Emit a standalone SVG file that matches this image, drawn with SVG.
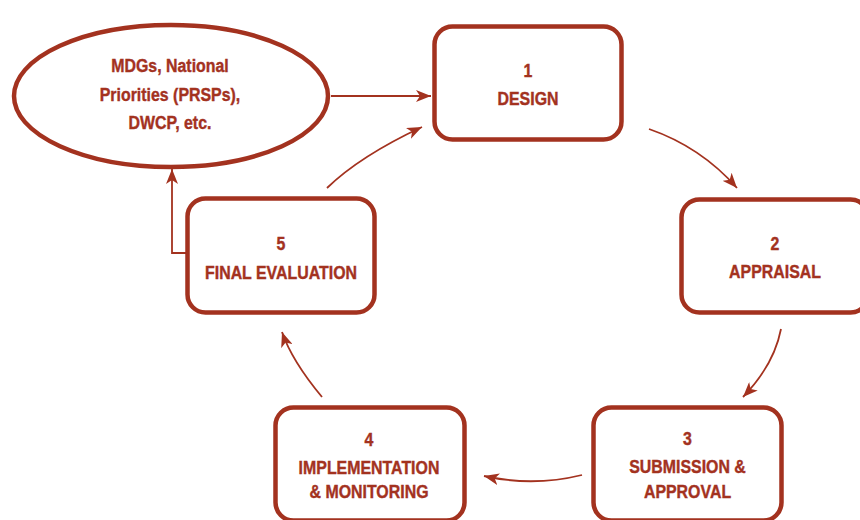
<svg xmlns="http://www.w3.org/2000/svg" width="860" height="520" viewBox="0 0 860 520">
<defs>
<style>
.node{fill:#ffffff;stroke:#a3321f;stroke-width:4.5}
.lbl{font-family:"Liberation Sans",Arial,sans-serif;font-weight:bold;font-size:18.5px;fill:#a3321f;stroke:#a3321f;stroke-width:0.4;text-anchor:middle}
.conn{fill:none;stroke:#a3321f;stroke-width:1.8}
</style>
<marker id="ah" markerUnits="userSpaceOnUse" markerWidth="16" markerHeight="12" refX="15" refY="6" orient="auto">
<path d="M0,0 L15,6 L0,12 L4,6 z" fill="#a3321f"/>
</marker>
</defs>
<rect width="860" height="520" fill="#ffffff"/>
<g id="connectors">
<path class="conn" d="M331,96 L431,96" marker-end="url(#ah)"/>
<path class="conn" d="M327,188 Q360,156 422,127" marker-end="url(#ah)"/>
<path class="conn" d="M649,129 Q701,147 737,188" marker-end="url(#ah)"/>
<path class="conn" d="M781,329 Q774,365 743,397" marker-end="url(#ah)"/>
<path class="conn" d="M582,475 Q533,487 484,476" marker-end="url(#ah)"/>
<path class="conn" d="M322,397 Q292,361 282,332" marker-end="url(#ah)"/>
<path class="conn" d="M186,253 L172,253 L172,169" marker-end="url(#ah)"/>
</g>
<g id="goals">
<ellipse class="node" cx="171" cy="96" rx="157" ry="71"/>
<text class="lbl" transform="translate(170,72) scale(0.86,1)">MDGs, National</text>
<text class="lbl" transform="translate(170,101) scale(0.86,1)">Priorities (PRSPs),</text>
<text class="lbl" transform="translate(170,129) scale(0.86,1)">DWCP, etc.</text>
</g>
<g id="design">
<rect class="node" x="434.5" y="26.5" width="187" height="113" rx="18"/>
<text class="lbl" transform="translate(528,77) scale(0.86,1)">1</text>
<text class="lbl" transform="translate(528,105) scale(0.86,1)">DESIGN</text>
</g>
<g id="appraisal">
<rect class="node" x="681.5" y="199.5" width="187" height="113" rx="18"/>
<text class="lbl" transform="translate(775,250) scale(0.86,1)">2</text>
<text class="lbl" transform="translate(775,278) scale(0.86,1)">APPRAISAL</text>
</g>
<g id="submission">
<rect class="node" x="593.5" y="407.5" width="188" height="113" rx="18"/>
<text class="lbl" transform="translate(687.5,445) scale(0.86,1)">3</text>
<text class="lbl" transform="translate(687.5,473) scale(0.86,1)">SUBMISSION &amp;</text>
<text class="lbl" transform="translate(687.5,498) scale(0.86,1)">APPROVAL</text>
</g>
<g id="implementation">
<rect class="node" x="275.5" y="407.5" width="189" height="113" rx="18"/>
<text class="lbl" transform="translate(369,446) scale(0.86,1)">4</text>
<text class="lbl" transform="translate(369,474) scale(0.86,1)">IMPLEMENTATION</text>
<text class="lbl" transform="translate(369,498) scale(0.86,1)">&amp; MONITORING</text>
</g>
<g id="evaluation">
<rect class="node" x="187.5" y="198.5" width="187" height="114" rx="18"/>
<text class="lbl" transform="translate(281,250) scale(0.86,1)">5</text>
<text class="lbl" transform="translate(281,279) scale(0.86,1)">FINAL EVALUATION</text>
</g>
</svg>
